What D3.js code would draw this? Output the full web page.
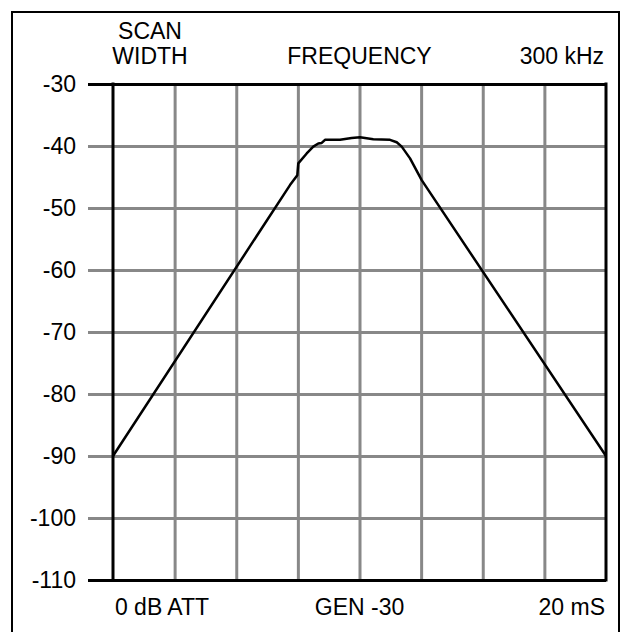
<!DOCTYPE html>
<html lang="en">
<head>
    <meta charset="UTF-8">
    <title>scan width chart</title>
    <script src="https://cdn.jsdelivr.net/npm/d3@7"></script>
    <style>
        body { margin: 0; background: #fff; }
        text { font-family: "Liberation Sans", Arial, sans-serif; fill: #000; }
    </style>
</head>
<body>
    <div id="chart"></div>
<script>
    // x in screen divisions (0..8), y in dB
    const xDiv = [0, 2.872, 2.991, 3.007, 3.143, 3.25, 3.331, 3.387, 3.44, 3.684, 3.873, 4.008, 4.224, 4.495, 4.604, 4.685, 4.82, 5.009, 8];
    const dB = [-90, -46.3, -44.7, -42.8, -41.2, -40.1, -39.6, -39.5, -39.0, -39.0, -38.7, -38.6, -38.9, -39.0, -39.4, -40.1, -42.0, -45.5, -90];
    const yTicks = [-30, -40, -50, -60, -70, -80, -90, -100, -110];
    const xTicks = [0, 1, 2, 3, 4, 5, 6, 7, 8];
    const topLabels = ["FREQUENCY", "300 kHz"];
    const bottomLabels = ["0 dB ATT", "GEN -30", "20 mS"];

    let draw = () => {
        let svg = d3.select("#chart").append("svg")
            .attr("width", 631)
            .attr("height", 632);

        // outer frame
        svg.append("rect")
            .attr("x", 12).attr("y", 12)
            .attr("width", 607).attr("height", 640)
            .attr("fill", "none").attr("stroke", "#000").attr("stroke-width", 2);

        let padding = { top: 84, left: 113, bottom: 52, right: 25 };
        let width = 631 - padding.left - padding.right;
        let height = 632 - padding.top - padding.bottom;

        let x = d3.scaleLinear().domain([0, 8]).range([0, width]);
        let y = d3.scaleLinear().domain([-110, -30]).range([height, 0]);

        let focus = svg.append("g")
            .attr("transform", "translate(" + padding.left + "," + padding.top + ")");

        // vertical grid
        focus.append("g")
            .attr("class", "xgrid")
            .attr("transform", "translate(0," + height + ")")
            .call(d3.axisBottom(x).tickValues(xTicks.slice(1, -1)).tickSize(-height).tickFormat(""))
            .call(g => g.select(".domain").remove())
            .selectAll("line").attr("stroke", "#888").attr("stroke-width", 3);

        // y axis with grid lines that stick out to the left
        let fs = 23;
        let yAxis = d3.axisLeft(y).tickValues(yTicks).tickSize(-width).tickPadding(37)
            .tickFormat(d => String(d));
        let ya = focus.append("g").attr("class", "yaxis").call(yAxis);
        ya.select(".domain").remove();
        ya.selectAll(".tick line")
            .attr("x1", -25)
            .attr("stroke", d => (d === -30 || d === -110) ? "#000" : "#888")
            .attr("stroke-width", 3);
        ya.selectAll(".tick text").attr("font-size", fs).attr("font-family", "Liberation Sans, Arial, sans-serif");

        // left and right borders
        focus.append("line").attr("x1", 0).attr("x2", 0).attr("y1", -1.5).attr("y2", height + 1.5)
            .attr("stroke", "#000").attr("stroke-width", 3);
        focus.append("line").attr("x1", width).attr("x2", width).attr("y1", -1.5).attr("y2", height + 1.5)
            .attr("stroke", "#000").attr("stroke-width", 3);

        // response curve
        let pts = xDiv.map((d, i) => [d, dB[i]]);
        focus.append("path")
            .datum(pts)
            .attr("fill", "none")
            .attr("stroke", "#000")
            .attr("stroke-width", 2.5)
            .attr("stroke-linejoin", "round")
            .attr("d", d3.line().x(d => x(d[0])).y(d => y(d[1])));

        // labels
        svg.append("text").attr("x", 150).attr("y", 39).attr("text-anchor", "middle").attr("font-size", fs).text("SCAN");
        svg.append("text").attr("x", 150).attr("y", 64).attr("text-anchor", "middle").attr("font-size", fs).text("WIDTH");
        svg.append("text").attr("x", padding.left + x(4)).attr("y", 64).attr("text-anchor", "middle").attr("font-size", fs).text(topLabels[0]);
        svg.append("text").attr("x", 604).attr("y", 64).attr("text-anchor", "end").attr("font-size", fs).text(topLabels[1]);

        svg.append("text").attr("x", 162).attr("y", 615).attr("text-anchor", "middle").attr("font-size", fs).text(bottomLabels[0]);
        svg.append("text").attr("x", padding.left + x(4)).attr("y", 615).attr("text-anchor", "middle").attr("font-size", fs).text(bottomLabels[1]);
        svg.append("text").attr("x", 605).attr("y", 615).attr("text-anchor", "end").attr("font-size", fs).text(bottomLabels[2]);
    }
    draw();
</script>
</body>
</html>
